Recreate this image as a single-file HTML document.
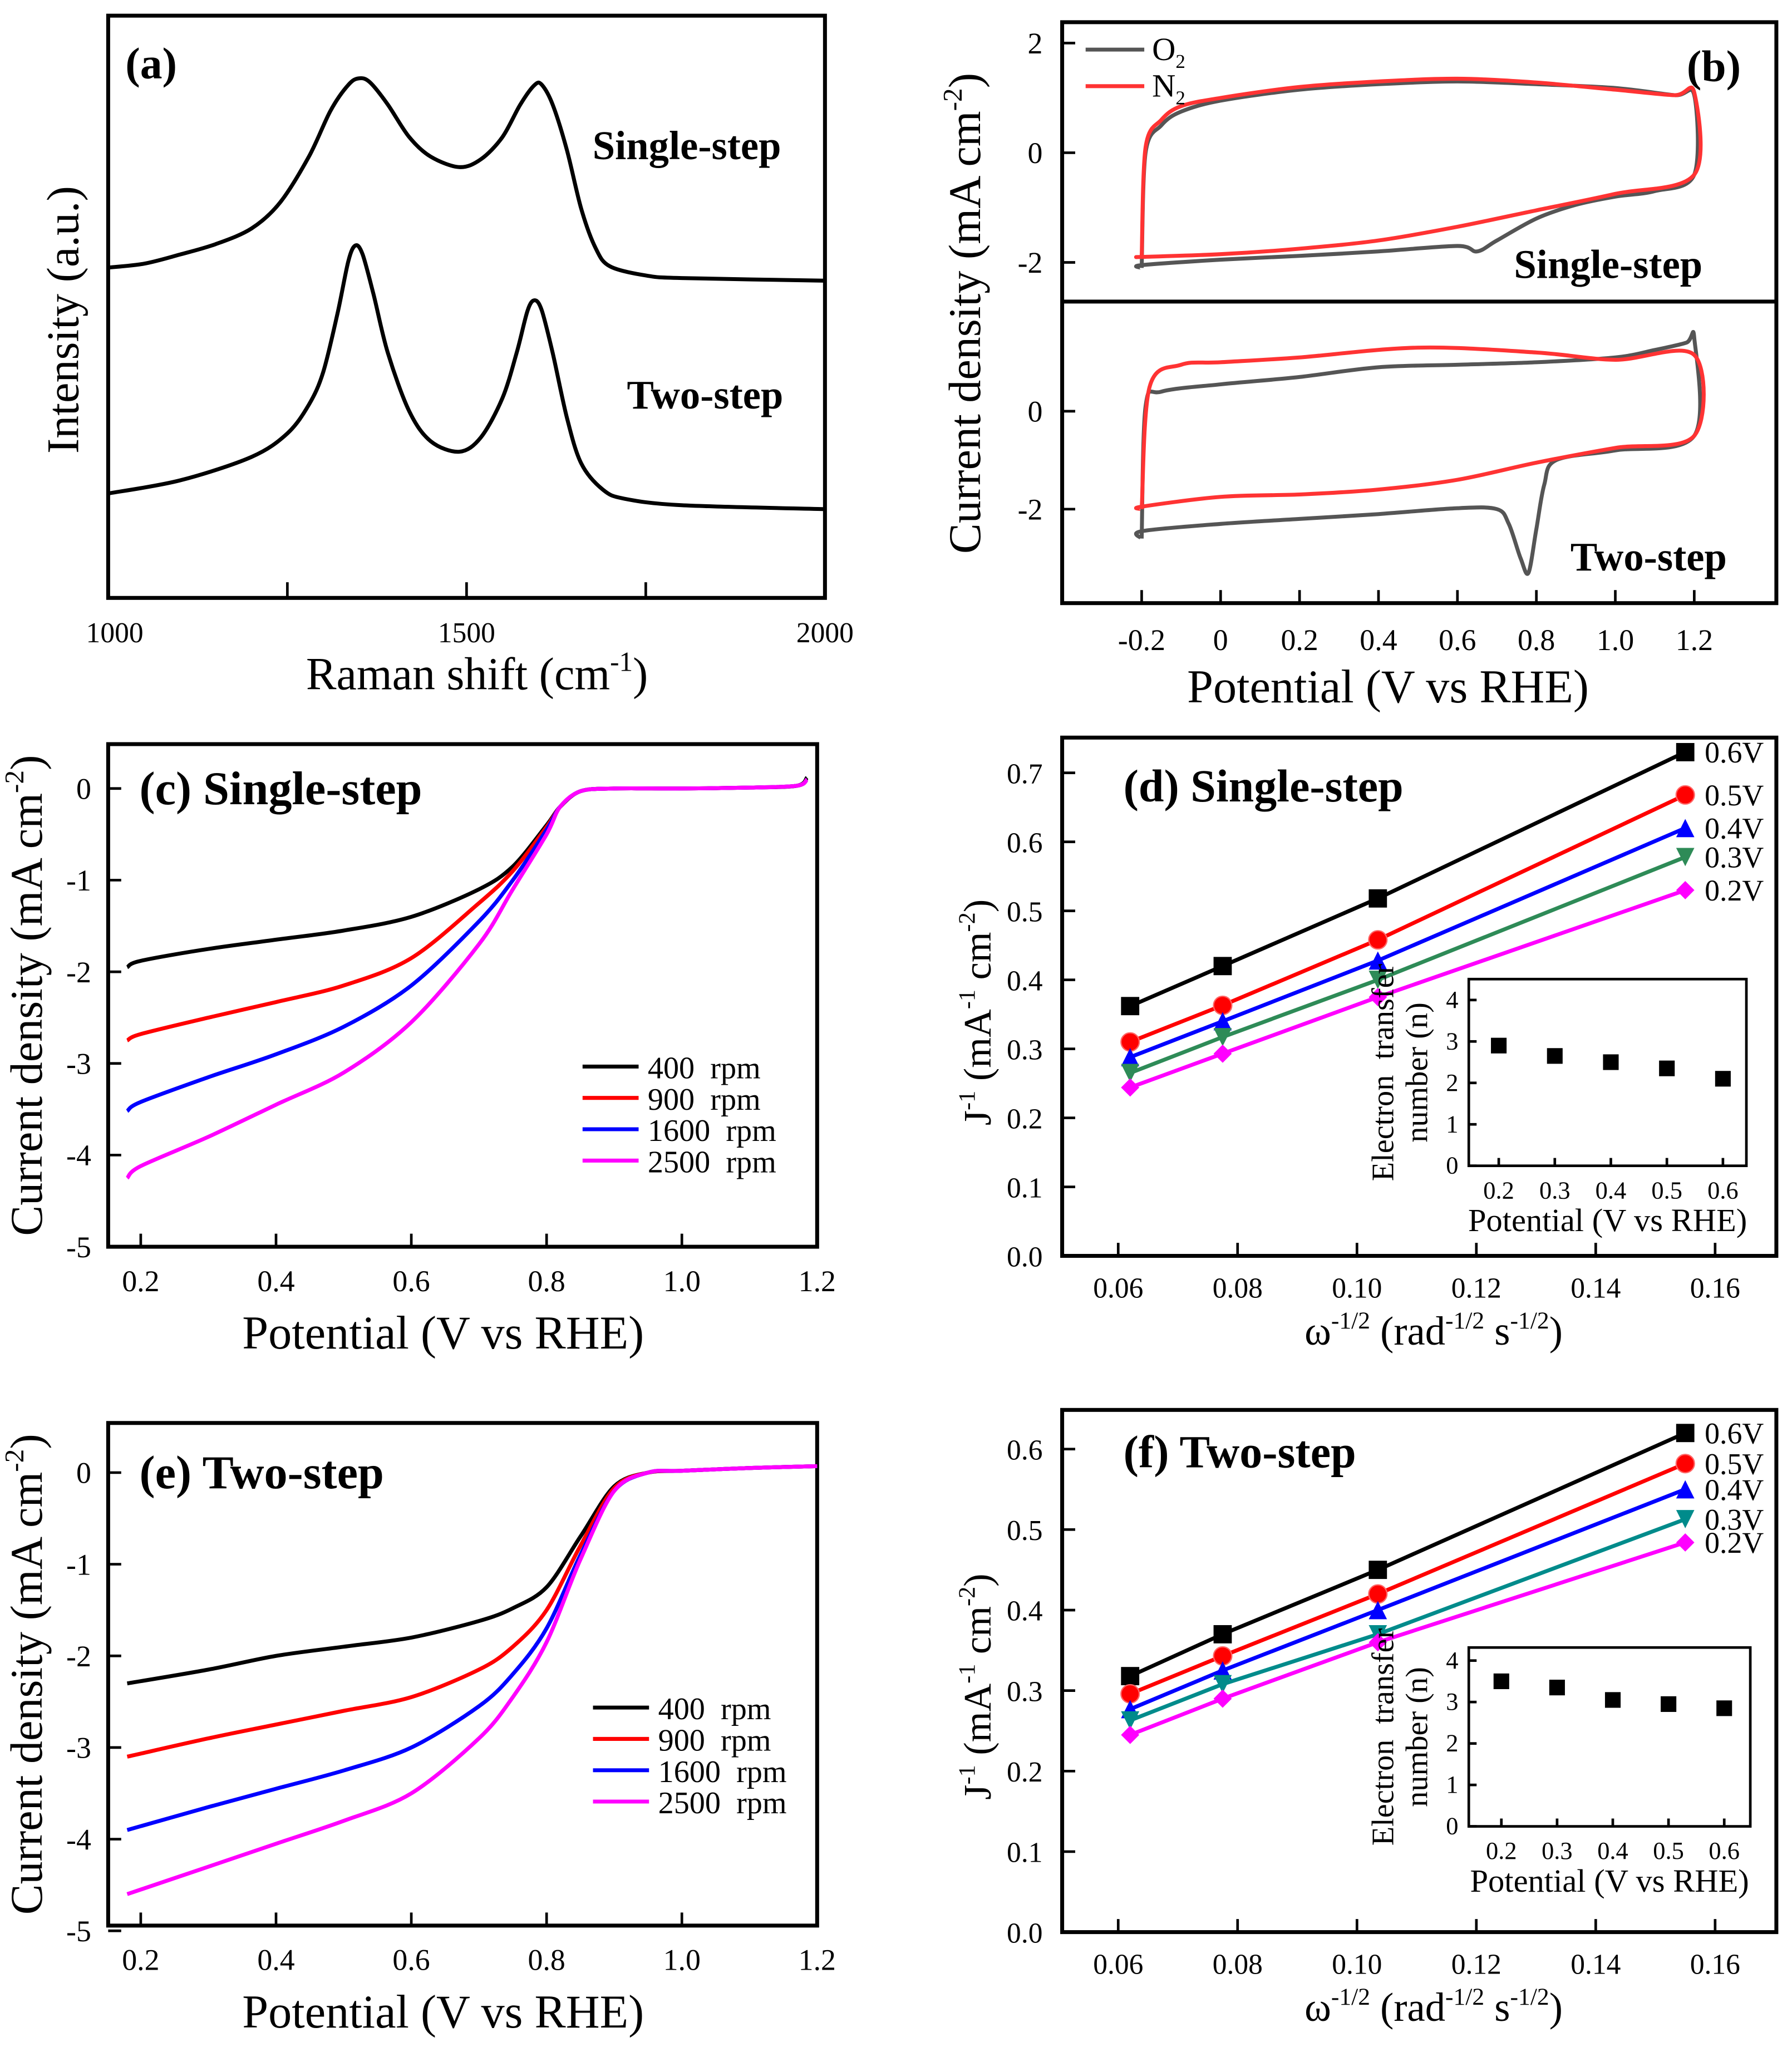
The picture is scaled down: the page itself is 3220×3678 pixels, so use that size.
<!DOCTYPE html>
<html><head><meta charset="utf-8"><style>
html,body{margin:0;padding:0;background:#fff}
svg{display:block}
text{font-family:"Liberation Serif",serif;fill:#000}
</style></head><body>
<svg id="fig" width="3220" height="3678" viewBox="0 0 1375 1568" preserveAspectRatio="none" xmlns="http://www.w3.org/2000/svg"></svg>
<script>
// ---------- DATA ----------
const ramanShift1=[1000,1050,1100,1150,1200,1240,1280,1310,1335,1350,1365,1390,1420,1450,1490,1520,1550,1575,1595,1605,1620,1640,1660,1680,1700,1750,1800,2000];
const ramanSingle=[265,268,275,283,295,315,350,385,405,410,407,390,365,350,342,348,365,390,405,405,390,355,310,280,266,259,257,255];
const ramanShift2=[1000,1100,1200,1250,1280,1300,1320,1335,1345,1355,1370,1390,1420,1450,1490,1520,1550,1570,1585,1595,1605,1620,1640,1660,1690,1720,1800,2000];
const ramanTwo=[92,102,120,138,160,185,230,270,282,275,245,200,155,132,124,135,165,200,232,240,232,200,150,115,95,88,83,80];

const cvTopO2V=[-0.2,-0.19,-0.15,-0.1,0,0.2,0.4,0.6,0.8,1.0,1.15,1.2,1.2,1.1,1.0,0.9,0.8,0.7,0.65,0.6,0.4,0.2,0,-0.2,-0.2];
const cvTopO2J=[-2.1,0.0,0.5,0.75,0.95,1.15,1.25,1.3,1.25,1.18,1.05,1.05,-0.4,-0.7,-0.8,-0.95,-1.2,-1.6,-1.8,-1.7,-1.8,-1.88,-1.95,-2.05,-2.1];
const cvTopN2V=[-0.2,-0.19,-0.15,-0.1,0,0.2,0.4,0.6,0.8,1.0,1.15,1.2,1.2,1.0,0.8,0.6,0.4,0.2,0,-0.2,-0.2];
const cvTopN2J=[-1.9,0.1,0.6,0.85,1.0,1.2,1.3,1.35,1.28,1.15,1.05,1.1,-0.4,-0.75,-1.05,-1.35,-1.6,-1.75,-1.85,-1.9,-1.9];
const cvBotO2V=[-0.2,-0.19,-0.15,0,0.2,0.4,0.6,0.8,1.0,1.1,1.18,1.2,1.2,1.0,0.85,0.82,0.8,0.78,0.76,0.73,0.7,0.6,0.4,0.2,0,-0.2,-0.2];
const cvBotO2J=[-2.6,0.1,0.4,0.55,0.7,0.9,0.95,1.0,1.1,1.25,1.4,1.5,-0.5,-0.8,-1.0,-1.5,-2.4,-3.3,-3.0,-2.3,-2.0,-1.98,-2.1,-2.2,-2.3,-2.45,-2.6];
const cvBotN2V=[-0.2,-0.18,-0.1,0,0.2,0.5,0.8,1.0,1.2,1.2,1.0,0.8,0.6,0.4,0.2,0,-0.2,-0.2];
const cvBotN2J=[-2.0,0.5,0.95,1.0,1.1,1.3,1.2,1.05,1.15,-0.5,-0.75,-1.05,-1.4,-1.6,-1.7,-1.75,-1.95,-2.0];

const lsvC_V=[0.18,0.2,0.3,0.4,0.5,0.6,0.7,0.75,0.8,0.82,0.85,0.9,1.0,1.1,1.17,1.185];
const lsvC_400=[-1.95,-1.88,-1.75,-1.65,-1.55,-1.4,-1.1,-0.85,-0.4,-0.2,-0.03,0,0,0.01,0.03,0.12];
const lsvC_900=[-2.75,-2.68,-2.5,-2.33,-2.15,-1.85,-1.25,-0.9,-0.42,-0.2,-0.03,0,0,0.01,0.03,0.1];
const lsvC_1600=[-3.52,-3.42,-3.15,-2.9,-2.6,-2.15,-1.45,-1.0,-0.45,-0.2,-0.03,0,0,0.01,0.03,0.1];
const lsvC_2500=[-4.25,-4.12,-3.8,-3.45,-3.1,-2.55,-1.7,-1.1,-0.5,-0.2,-0.03,0,0,0.01,0.03,0.1];
const lsvE_V=[0.18,0.3,0.4,0.5,0.6,0.7,0.75,0.8,0.85,0.9,0.95,1.0,1.1,1.2];
const lsvE_400=[-2.3,-2.15,-2.0,-1.9,-1.8,-1.62,-1.48,-1.25,-0.7,-0.15,0,0.02,0.05,0.07];
const lsvE_900=[-3.1,-2.9,-2.75,-2.6,-2.45,-2.15,-1.9,-1.5,-0.8,-0.17,0,0.02,0.05,0.07];
const lsvE_1600=[-3.9,-3.65,-3.45,-3.25,-3.0,-2.55,-2.2,-1.7,-0.9,-0.2,0,0.02,0.05,0.07];
const lsvE_2500=[-4.6,-4.3,-4.05,-3.8,-3.5,-2.9,-2.45,-1.85,-0.95,-0.2,0,0.02,0.05,0.07];
const rpmLabels=["400  rpm","900  rpm","1600  rpm","2500  rpm"];
const rpmColors=["#000","#f00","#00f","#f0f"];

const klOmega=[0.062,0.0775,0.1035,0.155];
const klPotLabels=["0.6V","0.5V","0.4V","0.3V","0.2V"];
const klD=[[0.362,0.42,0.518,0.73],[0.31,0.363,0.458,0.668],[0.288,0.34,0.428,0.62],[0.265,0.317,0.4,0.578],[0.244,0.293,0.375,0.53]];
const klF=[[0.318,0.37,0.45,0.62],[0.296,0.343,0.42,0.582],[0.277,0.325,0.4,0.55],[0.263,0.308,0.37,0.513],[0.245,0.29,0.36,0.484]];
const insetPot=[0.2,0.3,0.4,0.5,0.6];
const nD=[2.9,2.65,2.5,2.35,2.1];
const nF=[3.5,3.35,3.05,2.95,2.85];
const klColors=["#000","#f00","#00f","#2e8b57","#f0f"];
const klColorsF=["#000","#f00","#00f","#008b8b","#f0f"];

// ---------- HELPERS ----------
const NS="http://www.w3.org/2000/svg", svg=document.getElementById('fig');
function el(tag,attrs,parent){const e=document.createElementNS(NS,tag);for(const k in attrs)e.setAttribute(k,attrs[k]);(parent||svg).appendChild(e);return e;}
function lin(d0,d1,p0,p1){return v=>p0+(v-d0)*(p1-p0)/(d1-d0);}
function txt(x,y,s,size,opts){opts=opts||{};const t=el('text',{x:x,y:y,'font-size':size,'text-anchor':opts.anchor||'middle','font-weight':opts.bold?'bold':'normal'});
 if(opts.rot)t.setAttribute('transform',`rotate(-90 ${x} ${y})`);t.innerHTML=s;
 return t;}
function box(x0,y0,x1,y1,name){const r=el('rect',{x:x0,y:y0,width:x1-x0,height:y1-y0,fill:'none',stroke:'#000','stroke-width':3});
 }
function line(xs,ys,fx,fy,color,name,w,straight){
 const P=xs.map((v,i)=>[fx(v),fy(ys[i])]);
 let d='M'+P[0][0].toFixed(1)+' '+P[0][1].toFixed(1);
 for(let i=0;i<P.length-1;i++){
  if(straight){d+='L'+P[i+1][0].toFixed(1)+' '+P[i+1][1].toFixed(1);continue;}
  const p0=P[Math.max(0,i-1)],p1=P[i],p2=P[i+1],p3=P[Math.min(P.length-1,i+2)];
  const t=0.16;
  const c1=[p1[0]+(p2[0]-p0[0])*t,p1[1]+(p2[1]-p0[1])*t],c2=[p2[0]-(p3[0]-p1[0])*t,p2[1]-(p3[1]-p1[1])*t];
  d+=`C${c1[0].toFixed(1)} ${c1[1].toFixed(1)} ${c2[0].toFixed(1)} ${c2[1].toFixed(1)} ${p2[0].toFixed(1)} ${p2[1].toFixed(1)}`;}
 const p=el('path',{d:d,fill:'none',stroke:color,'stroke-width':w||3,'stroke-linejoin':'round'});
 return p;}
function tick(x1,y1,x2,y2){const l=el('line',{x1,y1,x2,y2,stroke:'#000','stroke-width':2});}
function marker(x,y,i,color,s){s=s||7;let e;
 if(i==0)e=el('rect',{x:x-s,y:y-s,width:2*s,height:2*s,fill:color});
 else if(i==1)e=el('circle',{cx:x,cy:y,r:s,fill:color,stroke:'#f66','stroke-width':1});
 else if(i==2)e=el('polygon',{points:`${x},${y-s} ${x+s},${y+s} ${x-s},${y+s}`,fill:color});
 else if(i==3)e=el('polygon',{points:`${x-s},${y-s} ${x+s},${y-s} ${x},${y+s}`,fill:color});
 else e=el('polygon',{points:`${x},${y-s} ${x+s},${y} ${x},${y+s} ${x-s},${y}`,fill:color});
 }
// superscript: small raised span followed by a span that restores baseline (pixel offsets)
const SUP=(s,f)=>`<tspan font-size="${(0.6*f).toFixed(1)}" dy="${(-0.4*f).toFixed(1)}">${s}</tspan><tspan dy="${(0.4*f).toFixed(1)}">`;

// ---------- (a) ----------
{const fx=lin(1000,2000,83,633), fy=v=>470-v;
 box(83,12,633,458,'raman-plot-frame');
 [1000,1250,1500,1750,2000].forEach(v=>tick(fx(v),458,fx(v),446));
 [1000,1500,2000].forEach(v=>txt(fx(v)+(v==1000?5:0),492,v,22,{name:'x-tick-label'}));
 line(ramanShift1,ramanSingle,fx,fy,'#000','raman-single-step');
 line(ramanShift2,ramanTwo,fx,fy,'#000','raman-two-step');
 txt(116,60,'(a)',34,{bold:1,name:'panel-label-a'});
 txt(527,122,'Single-step',31,{bold:1,name:'series-label-single'});
 txt(541,313,'Two-step',31,{bold:1,name:'series-label-two'});
 txt(366,528,'Raman shift (cm'+SUP('-1',35)+')</tspan>',35,{name:'x-axis-title'});
 txt(60,245,'Intensity (a.u.)',35,{rot:1,name:'y-axis-title'});}

// ---------- (b) ----------
{const fx=lin(-0.2,1.2,876,1300), fyT=lin(0,1,117,75), fyB=lin(0,1,315,277.5);
 box(815,17,1363,462,'cv-plot-frame');
 const d=el('line',{x1:815,y1:231,x2:1363,y2:231,stroke:'#000','stroke-width':3});
 [-0.2,0,0.2,0.4,0.6,0.8,1.0,1.2].forEach(v=>{tick(fx(v),462,fx(v),452);txt(fx(v),498,v==0?'0':v.toFixed(1),23,{name:'x-tick-label'});});
 [2,0,-2].forEach(v=>{tick(815,fyT(v),825,fyT(v));txt(800,fyT(v)+8,v,23,{anchor:'end',name:'y-tick-label'});});
 [0,-2].forEach(v=>{tick(815,fyB(v),825,fyB(v));txt(800,fyB(v)+8,v,23,{anchor:'end',name:'y-tick-label'});});
 line(cvTopO2V,cvTopO2J,fx,fyT,'#555','cv-single-o2');
 line(cvTopN2V,cvTopN2J,fx,fyT,'#f33','cv-single-n2');
 line(cvBotO2V,cvBotO2J,fx,fyB,'#555','cv-two-o2');
 line(cvBotN2V,cvBotN2J,fx,fyB,'#f33','cv-two-n2');
 const l1=el('line',{x1:833,y1:38,x2:878,y2:38,stroke:'#555','stroke-width':3});
 const l2=el('line',{x1:833,y1:66,x2:878,y2:66,stroke:'#f33','stroke-width':3});
 txt(884,46,'O<tspan font-size="15" dy="6">2</tspan>',25,{anchor:'start',name:'legend-label-o2'});
 txt(884,74,'N<tspan font-size="15" dy="6">2</tspan>',25,{anchor:'start',name:'legend-label-n2'});
 txt(1315,62,'(b)',34,{bold:1,name:'panel-label-b'});
 txt(1234,213,'Single-step',31,{bold:1,name:'series-label-single'});
 txt(1265,437,'Two-step',31,{bold:1,name:'series-label-two'});
 txt(1065,538,'Potential (V vs RHE)',36,{name:'x-axis-title'});
 txt(752,240,'Current density (mA cm'+SUP('-2',35)+')</tspan>',35,{rot:1,name:'y-axis-title'});}

// ---------- LSV panels ----------
function lsv(y0,y1,zeroY,V,series,label,lgY,lgX,nm){
 const fx=lin(0.2,1.2,108,627), fy=lin(0,-5,zeroY,zeroY+351);
 box(83,y0,627,y1,nm+'-frame');
 [0.2,0.4,0.6,0.8,1.0,1.2].forEach(v=>{tick(fx(v),y1,fx(v),y1-10);txt(fx(v),y1+34,v.toFixed(1),23,{name:'x-tick-label'});});
 [0,-1,-2,-3,-4,-5].forEach(v=>{tick(83,fy(v),93,fy(v));txt(70,fy(v)+8,v,23,{anchor:'end',name:'y-tick-label'});});
 series.forEach((s,i)=>line(V,s,fx,fy,rpmColors[i],nm+'-'+rpmLabels[i].replace(/\s+/g,'-')));
 series.forEach((s,i)=>{const l=el('line',{x1:lgX,y1:lgY+i*24,x2:lgX+43,y2:lgY+i*24,stroke:rpmColors[i],'stroke-width':3});
  
  txt(lgX+50,lgY+i*24+9,rpmLabels[i].replace('  ','&#160;&#160;'),24,{anchor:'start',name:'legend-label'});});
 txt(107,zeroY+12,label,36,{bold:1,anchor:'start',name:'panel-title'});
 txt(340,y1+78,'Potential (V vs RHE)',36,{name:'x-axis-title'});
 txt(32,(y0+y1)/2,'Current density (mA cm'+SUP('-2',35)+')</tspan>',35,{rot:1,name:'y-axis-title'});}
lsv(570,955,604,lsvC_V,[lsvC_400,lsvC_900,lsvC_1600,lsvC_2500],'(c) Single-step',817,447,'lsv-single');
lsv(1090,1475,1128,lsvE_V,[lsvE_400,lsvE_900,lsvE_1600,lsvE_2500],'(e) Two-step',1308,455,'lsv-two');

// ---------- KL panels ----------
function kl(y0,y1,yTicks,data,nVals,label,ins,colors,nm){
 const fx=lin(0.06,0.16,858,1316);
 const fyy=lin(0,yTicks[yTicks.length-1],y1,ins.topTick);
 box(815,y0,1363,y1,nm+'-frame');
 [0.06,0.08,0.10,0.12,0.14,0.16].forEach(v=>{tick(fx(v),y1,fx(v),y1-10);txt(fx(v),y1+32,v.toFixed(2),22,{name:'x-tick-label'});});
 yTicks.forEach(v=>{tick(815,fyy(v),825,fyy(v));txt(800,fyy(v)+8,v.toFixed(1),22,{anchor:'end',name:'y-tick-label'});});
 data.forEach((ser,i)=>{line(klOmega,ser,fx,fyy,colors[i],nm+'-fit-'+klPotLabels[i],3,true);
  ser.forEach((v,j)=>marker(fx(klOmega[j]),fyy(v),i,colors[i]));
  txt(1308,fyy(ser[3])+8,klPotLabels[i],23,{anchor:'start',name:'series-label'});});
 txt(862,ins.titleY,label,35,{bold:1,anchor:'start',name:'panel-title'});
 txt(1100,y1+68,'&#969;'+SUP('-1/2',31)+' (rad'+SUP('-1/2',31)+' s'+SUP('-1/2',31)+')</tspan></tspan></tspan>',31,{name:'x-axis-title'});
 txt(760,(y0+y1)/2+12,'J'+SUP('-1',30)+' (mA'+SUP('-1',30)+' cm'+SUP('-2',30)+')</tspan></tspan></tspan>',30,{rot:1,name:'y-axis-title'});
 // inset
 const ix=lin(0.2,0.6,ins.x02,ins.x06), iy=lin(0,4,ins.y1,ins.y4);
 const bg=el('rect',{x:ins.bx0,y:ins.by0,width:ins.bx1-ins.bx0,height:ins.by1-ins.by0,fill:'#fff',stroke:'#000','stroke-width':2});
 
 insetPot.forEach(v=>{tick(ix(v),ins.by1,ix(v),ins.by1-6);txt(ix(v),ins.by1+25,v.toFixed(1),19,{name:'inset-x-tick-label'});});
 [0,1,2,3,4].forEach(v=>{tick(ins.bx0,iy(v),ins.bx0+6,iy(v));txt(ins.bx0-8,iy(v)+6,v,19,{anchor:'end',name:'inset-y-tick-label'});});
 nVals.forEach((v,i)=>marker(ix(insetPot[i]),iy(v),0,'#000',6));
 txt((ins.bx0+ins.bx1)/2,ins.by1+50,'Potential (V vs RHE)',25,{name:'inset-x-axis-title'});
 txt(ins.bx0-58,(ins.by0+ins.by1)/2,'Electron&#160;&#160;transfer',24,{rot:1,name:'inset-y-axis-title'});
 txt(ins.bx0-32,(ins.by0+ins.by1)/2,'number (n)',24,{rot:1,name:'inset-y-axis-title'});}
kl(565,962,[0.0,0.1,0.2,0.3,0.4,0.5,0.6,0.7],klD,nD,'(d) Single-step',
 {topTick:592,titleY:614,x02:1150,x06:1322,y1:893,y4:766,bx0:1127,bx1:1340,by0:750,by1:893},klColors,'kl-single');
kl(1080,1480,[0.0,0.1,0.2,0.3,0.4,0.5,0.6],klF,nF,'(f) Two-step',
 {topTick:1110,titleY:1124,x02:1152,x06:1323,y1:1399,y4:1272,bx0:1127,bx1:1343,by0:1262,by1:1399},klColorsF,'kl-two');
</script>
</body></html>
